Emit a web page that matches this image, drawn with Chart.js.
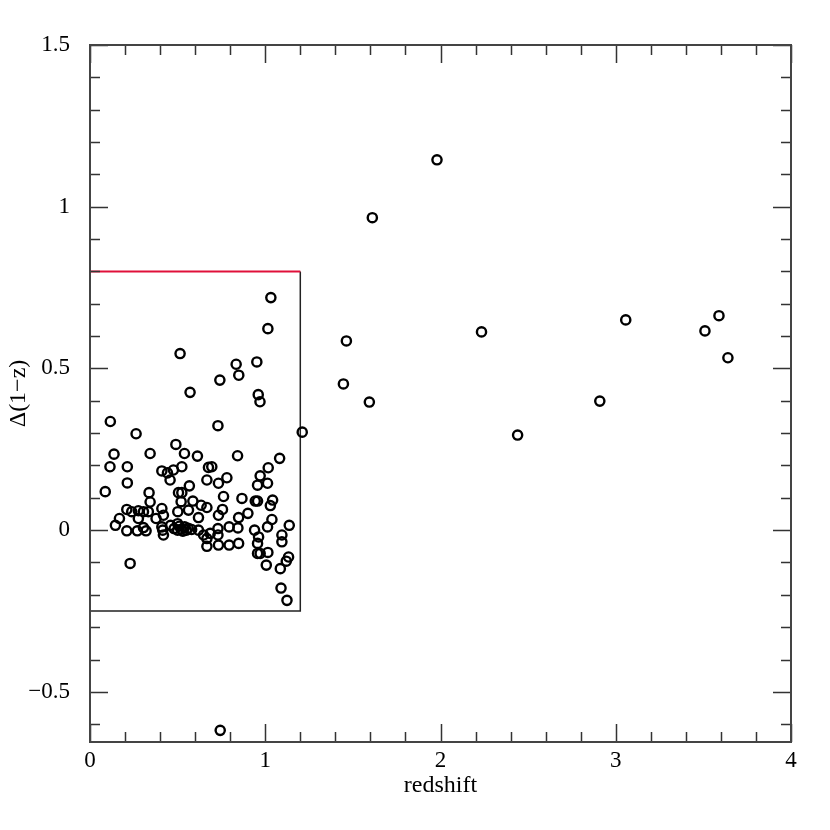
<!DOCTYPE html>
<html>
<head>
<meta charset="utf-8">
<script src="https://cdn.jsdelivr.net/npm/chart.js@4"></script>
<style>
  html, body { margin: 0; padding: 0; background: #fff; }
  #wrap { width: 830px; height: 830px; }
</style>
</head>
<body>
<div id="wrap"><canvas id="c" width="830" height="830"></canvas></div>
<script>
// redshift values of the galaxies
const redshift = [
  1.98, 1.611, 2.234, 1.463, 1.446, 1.594, 2.909, 2.44, 3.057, 3.509, 3.589, 3.64, 1.211, 0.743,
  1.032, 1.015, 0.514, 0.834, 0.952, 0.849, 0.741, 0.571, 0.96, 0.97, 0.116, 0.263, 0.73, 0.49,
  0.137, 0.343, 0.539, 0.613, 0.842, 0.114, 0.213, 1.082, 0.41, 0.442, 0.476, 0.524, 0.676, 0.695,
  1.017, 0.213, 0.457, 0.667, 0.733, 0.781, 0.971, 0.956, 1.013, 0.567, 0.087, 0.337, 0.505, 0.524,
  0.343, 0.52, 0.587, 0.634, 0.667, 0.762, 0.867, 0.943, 0.956, 1.042, 1.029, 0.21, 0.238, 0.276,
  0.305, 0.333, 0.41, 0.501, 0.562, 0.756, 0.901, 0.168, 0.276, 0.377, 0.419, 0.619, 0.733, 0.848,
  1.038, 0.145, 0.21, 0.27, 0.305, 0.32, 0.41, 0.419, 0.46, 0.48, 0.5, 0.51, 0.52, 0.53, 0.54,
  0.55, 0.56, 0.58, 0.5, 0.619, 0.648, 0.667, 0.667, 0.686, 0.73, 0.73, 0.733, 0.794, 0.794, 0.844,
  0.848, 0.939, 0.962, 1.013, 1.137, 1.095, 1.095, 0.956, 0.956, 0.971, 1.015, 1.133, 1.12, 1.006,
  1.086, 0.229, 1.09, 1.124, 0.415
];
// Δ(1-z) for the same galaxies
const delta = [
  1.145, 0.966, 0.613, 0.585, 0.452, 0.396, 0.399, 0.294, 0.65, 0.616, 0.663, 0.533, 0.303, -0.619,
  0.719, 0.623, 0.546, 0.513, 0.52, 0.479, 0.464, 0.426, 0.419, 0.397, 0.336, 0.298, 0.323, 0.265,
  0.235, 0.237, 0.237, 0.229, 0.23, 0.196, 0.196, 0.222, 0.183, 0.177, 0.186, 0.196, 0.194, 0.196,
  0.193, 0.146, 0.155, 0.155, 0.145, 0.162, 0.168, 0.139, 0.145, 0.137, 0.119, 0.116, 0.116, 0.116,
  0.087, 0.088, 0.09, 0.077, 0.07, 0.104, 0.098, 0.09, 0.09, 0.093, 0.076, 0.064, 0.057, 0.06,
  0.057, 0.057, 0.067, 0.057, 0.062, 0.064, 0.052, 0.036, 0.036, 0.036, 0.046, 0.039, 0.046, 0.039,
  0.033, 0.015, -0.002, -0.002, 0.008, -0.002, 0.01, -0.015, 0.015, 0.005, 0.0, 0.012, 0.003, -0.003, 0.01,
  0.0, 0.006, 0.002, 0.02, 0.0, -0.015, -0.026, -0.05, -0.01, 0.005, -0.015, -0.046, 0.01, -0.046, 0.007,
  -0.041, 0.0, -0.021, 0.01, 0.015, -0.015, -0.036, -0.041, -0.072, -0.072, -0.069, -0.083, -0.096, -0.108,
  -0.119, -0.103, -0.179, -0.217, 0.0
];
// selection box drawn on the plot
const boxTopX = [0, 1.2];
const boxTopY = [0.8, 0.8];
const boxEdgeX = [0, 1.2, 1.2];
const boxEdgeY = [-0.25, -0.25, 0.8];

const xTicks = [0, 1, 2, 3, 4];
const yTicks = [-0.5, 0, 0.5, 1, 1.5];

const toPts = (xs, ys) => xs.map((x, i) => ({ x: x, y: ys[i] }));

// ticks pointing inwards on all four sides of the frame
const frameTicks = {
  id: 'frameTicks',
  afterDraw(chart) {
    const ctx = chart.ctx;
    const a = chart.chartArea;
    const xs = chart.scales.x, ys = chart.scales.y;
    ctx.save();
    ctx.strokeStyle = '#333';
    ctx.lineWidth = 1.5;
    for (let i = 0; i <= 20; i++) {
      const v = i * 0.2;
      const px = Math.round(xs.getPixelForValue(v)) + 0.5;
      const len = (i % 5 === 0) ? 18 : 10;
      ctx.beginPath();
      ctx.moveTo(px, a.bottom); ctx.lineTo(px, a.bottom - len);
      ctx.moveTo(px, a.top); ctx.lineTo(px, a.top + len);
      ctx.stroke();
    }
    for (let i = -6; i <= 15; i++) {
      const v = i * 0.1;
      const py = Math.round(ys.getPixelForValue(v)) + 0.5;
      const len = (i % 5 === 0) ? 18 : 10;
      ctx.beginPath();
      ctx.moveTo(a.left, py); ctx.lineTo(a.left + len, py);
      ctx.moveTo(a.right, py); ctx.lineTo(a.right - len, py);
      ctx.stroke();
    }
    ctx.lineWidth = 2;
    ctx.strokeStyle = '#444';
    ctx.strokeRect(a.left, a.top, a.right - a.left, a.bottom - a.top);
    ctx.restore();
  }
};

const font = { family: 'Liberation Serif', size: 23 };

new Chart(document.getElementById('c'), {
  type: 'scatter',
  data: {
    datasets: [
      {
        data: toPts(redshift, delta),
        pointStyle: 'circle',
        pointRadius: 4.6,
        pointBorderWidth: 2.4,
        pointBorderColor: '#000',
        pointBackgroundColor: 'rgba(0,0,0,0)',
        showLine: false
      },
      {
        data: toPts(boxTopX, boxTopY),
        showLine: true,
        borderColor: '#e0103a',
        borderWidth: 2,
        pointRadius: 0
      },
      {
        data: toPts(boxEdgeX, boxEdgeY),
        showLine: true,
        borderColor: '#222',
        borderWidth: 1.5,
        pointRadius: 0
      }
    ]
  },
  options: {
    responsive: false,
    animation: false,
    layout: { padding: { left: 0, right: 39, top: 45, bottom: 26 } },
    plugins: { legend: { display: false }, tooltip: { enabled: false } },
    scales: {
      x: {
        type: 'linear',
        min: 0, max: 4,
        afterBuildTicks: s => { s.ticks = xTicks.map(v => ({ value: v })); },
        afterFit: s => { s.height = 62; },
        grid: { display: false },
        border: { display: false },
        ticks: { color: '#000', font: font, padding: -3, maxRotation: 0 },
        title: { display: true, text: 'redshift', color: '#000', font: { family: 'Liberation Serif', size: 24 }, padding: { top: 0 } }
      },
      y: {
        type: 'linear',
        min: -0.655, max: 1.5,
        afterBuildTicks: s => { s.ticks = yTicks.map(v => ({ value: v })); },
        afterFit: s => { s.width = 90; },
        grid: { display: false },
        border: { display: false },
        ticks: { color: '#000', font: font, padding: 12, callback: v => (v < 0 ? '\u2212' + Math.abs(v) : String(v)) },
        title: { display: true, text: '\u0394(1\u2212z)', color: '#000', font: { family: 'Liberation Serif', size: 24 }, padding: { bottom: 0 } }
      }
    }
  },
  plugins: [frameTicks]
});
</script>
</body>
</html>
